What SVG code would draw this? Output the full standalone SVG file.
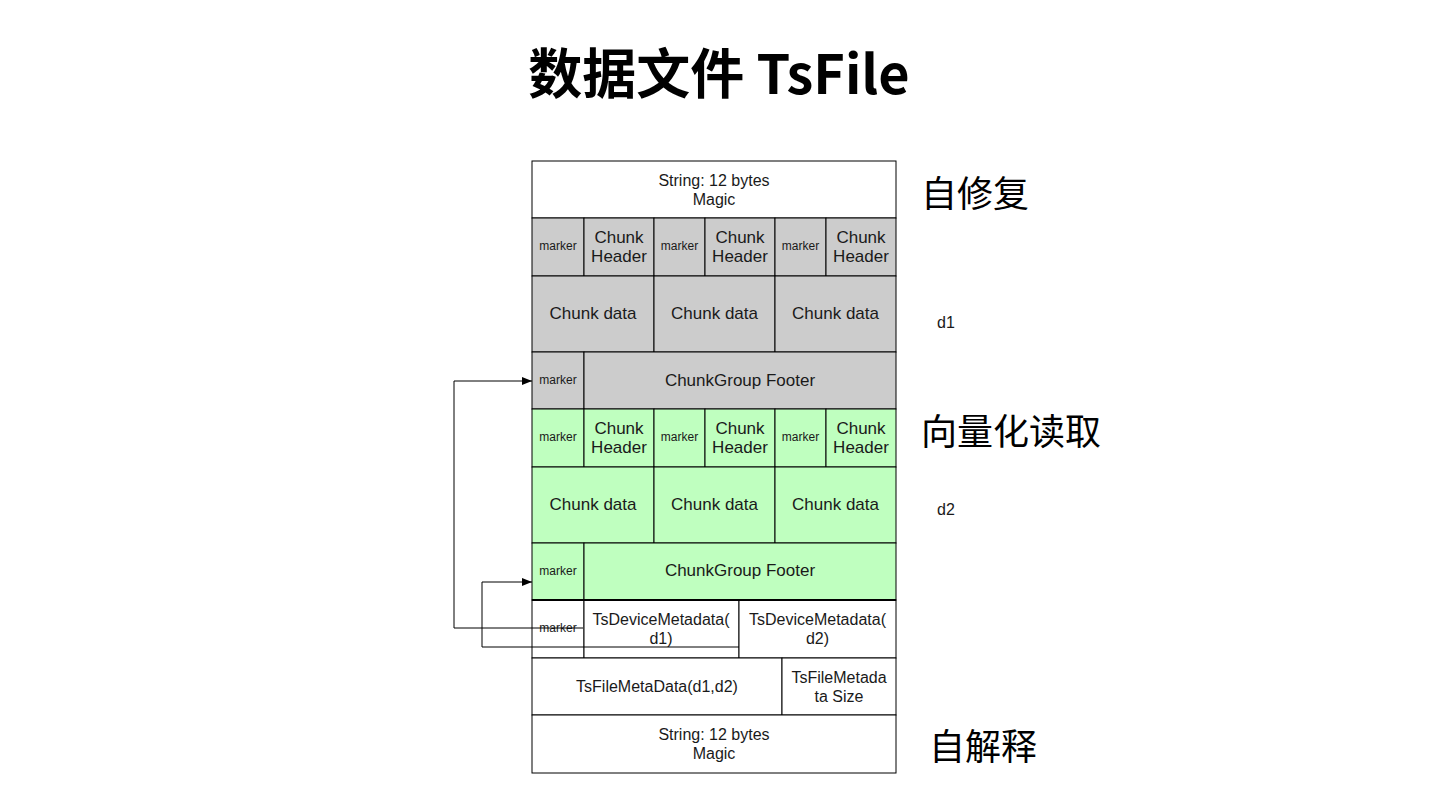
<svg xmlns="http://www.w3.org/2000/svg" width="1440" height="810" viewBox="0 0 1440 810">
<style>
.c{stroke:#000;stroke-width:1}
.w{fill:#fff}
.g{fill:#cccccc}
.v{fill:#bfffbf}
text{font-family:"Liberation Sans",Arial,sans-serif;fill:#1a1a1a;text-anchor:middle;dominant-baseline:central}
.s16{font-size:16px}
.s17{font-size:17px}
.s12{font-size:12px}
.cjk{font-family:"Noto Sans CJK SC",sans-serif;font-size:36px;text-anchor:start;fill:#000}
.lab{font-size:16px;text-anchor:start}
.conn{fill:none;stroke:#000;stroke-width:1}
</style>
<defs>
<marker id="arr" markerUnits="userSpaceOnUse" markerWidth="10" markerHeight="8" refX="10" refY="4" orient="auto">
<path d="M0,0 L10,4 L0,8 z" fill="#000"/>
</marker>
</defs>
<rect width="1440" height="810" fill="#fff"/>
<text x="719" y="70" style="font-family:'Noto Sans CJK SC',sans-serif;font-size:54px;font-weight:bold;fill:#000">数据文件 TsFile</text>

<g id="magic-top"><rect class="c w" x="532" y="161" width="364" height="57"/><text class="s16" x="714" y="180">String: 12 bytes</text><text class="s16" x="714" y="199">Magic</text></g>

<g id="d1-headers">
<rect class="c g" x="532" y="218" width="52" height="58"/><text class="s12" x="558" y="246">marker</text>
<rect class="c g" x="584" y="218" width="70" height="58"/><text class="s17" x="619" y="237">Chunk</text><text class="s17" x="619" y="256">Header</text>
<rect class="c g" x="654" y="218" width="51" height="58"/><text class="s12" x="679.5" y="246">marker</text>
<rect class="c g" x="705" y="218" width="70" height="58"/><text class="s17" x="740" y="237">Chunk</text><text class="s17" x="740" y="256">Header</text>
<rect class="c g" x="775" y="218" width="51" height="58"/><text class="s12" x="800.5" y="246">marker</text>
<rect class="c g" x="826" y="218" width="70" height="58"/><text class="s17" x="861" y="237">Chunk</text><text class="s17" x="861" y="256">Header</text>
</g>
<g id="d1-data">
<rect class="c g" x="532" y="276" width="122" height="76"/><text class="s17" x="593" y="313">Chunk data</text>
<rect class="c g" x="654" y="276" width="121" height="76"/><text class="s17" x="714.5" y="313">Chunk data</text>
<rect class="c g" x="775" y="276" width="121" height="76"/><text class="s17" x="835.5" y="313">Chunk data</text>
</g>
<g id="d1-footer">
<rect class="c g" x="532" y="352" width="52" height="57"/><text class="s12" x="558" y="380">marker</text>
<rect class="c g" x="584" y="352" width="312" height="57"/><text class="s17" x="740" y="380">ChunkGroup Footer</text>
</g>

<g id="d2-headers">
<rect class="c v" x="532" y="409" width="52" height="58"/><text class="s12" x="558" y="437">marker</text>
<rect class="c v" x="584" y="409" width="70" height="58"/><text class="s17" x="619" y="428">Chunk</text><text class="s17" x="619" y="447">Header</text>
<rect class="c v" x="654" y="409" width="51" height="58"/><text class="s12" x="679.5" y="437">marker</text>
<rect class="c v" x="705" y="409" width="70" height="58"/><text class="s17" x="740" y="428">Chunk</text><text class="s17" x="740" y="447">Header</text>
<rect class="c v" x="775" y="409" width="51" height="58"/><text class="s12" x="800.5" y="437">marker</text>
<rect class="c v" x="826" y="409" width="70" height="58"/><text class="s17" x="861" y="428">Chunk</text><text class="s17" x="861" y="447">Header</text>
</g>
<g id="d2-data">
<rect class="c v" x="532" y="467" width="122" height="76"/><text class="s17" x="593" y="504">Chunk data</text>
<rect class="c v" x="654" y="467" width="121" height="76"/><text class="s17" x="714.5" y="504">Chunk data</text>
<rect class="c v" x="775" y="467" width="121" height="76"/><text class="s17" x="835.5" y="504">Chunk data</text>
</g>
<g id="d2-footer">
<rect class="c v" x="532" y="543" width="52" height="57"/><text class="s12" x="558" y="571">marker</text>
<rect class="c v" x="584" y="543" width="312" height="57"/><text class="s17" x="740" y="570">ChunkGroup Footer</text>
</g>

<g id="device-meta">
<rect class="c w" x="532" y="600" width="52" height="58"/><text class="s12" x="558" y="628">marker</text>
<rect class="c w" x="584" y="600" width="155" height="58"/><text class="s16" x="661" y="619">TsDeviceMetadata(</text><text class="s16" x="661" y="638">d1)</text>
<rect class="c w" x="739" y="600" width="157" height="58"/><text class="s16" x="817.5" y="619">TsDeviceMetadata(</text><text class="s16" x="817.5" y="638">d2)</text>
<line x1="532" y1="600" x2="896" y2="600" stroke="#000" stroke-width="2"/>
</g>

<g id="file-meta">
<rect class="c w" x="532" y="658" width="250" height="57"/><text class="s16" x="657" y="686">TsFileMetaData(d1,d2)</text>
<rect class="c w" x="782" y="658" width="114" height="57"/><text class="s16" x="839" y="677">TsFileMetada</text><text class="s16" x="839" y="696">ta Size</text>
</g>

<g id="magic-bottom"><rect class="c w" x="532" y="715" width="364" height="58"/><text class="s16" x="714" y="734">String: 12 bytes</text><text class="s16" x="714" y="753">Magic</text></g>

<g id="connectors">
<path class="conn" d="M583,628 H454 V381 H532" marker-end="url(#arr)"/>
<path class="conn" d="M739,647 H482 V582 H532" marker-end="url(#arr)"/>
</g>

<g id="labels">
<text class="cjk" x="921" y="191">自修复</text>
<text class="lab" x="937" y="322">d1</text>
<text class="cjk" x="921" y="429">向量化读取</text>
<text class="lab" x="937" y="509">d2</text>
<text class="cjk" x="929" y="744">自解释</text>
</g>
</svg>
